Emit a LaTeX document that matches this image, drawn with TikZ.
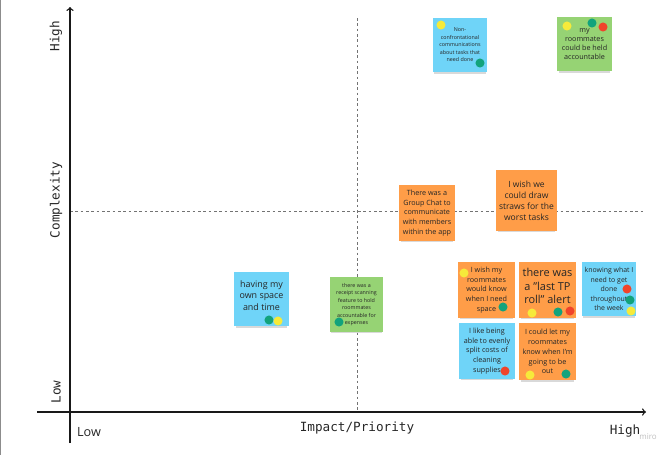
\documentclass[tikz,border=0pt]{standalone}
\usepackage{fontspec}
\setsansfont{Open Sans}
\setmonofont{DejaVu Sans Mono}
\usetikzlibrary{shadows}

\definecolor{noteblue}{HTML}{6FD4F8}
\definecolor{noteorange}{HTML}{FF9D48}
\definecolor{notegreen}{HTML}{96D374}
\definecolor{dotyellow}{HTML}{F6EA3A}
\definecolor{dotgreen}{HTML}{12A37C}
\definecolor{dotred}{HTML}{F0442B}

\tikzset{
  note/.style={inner sep=0pt, align=center, text=black!85,
    minimum width=41pt, minimum height=41pt,
    drop shadow={shadow xshift=0pt, shadow yshift=-2.5pt, opacity=0.3, shadow scale=0.94}},
  bluenote/.style={note, fill=noteblue},
  orangenote/.style={note, fill=noteorange},
  greennote/.style={note, fill=notegreen},
  dot/.style={circle, inner sep=0pt, minimum size=6.8pt},
  axislabel/.style={font=\ttfamily\fontsize{9.5}{11}\selectfont, text=black!85},
  guide/.style={dashed, draw=black!55, line width=0.5pt, dash pattern=on 2pt off 2pt}
}

\begin{document}
\begin{tikzpicture}[x=0.75pt, y=-0.75pt]
\useasboundingbox (0,0) rectangle (670,455);

%frame edge
\draw[black!45, line width=1pt] (0.8,0) -- (0.8,455);

%guides
\coordinate (hl) at (70,211);
\coordinate (hr) at (645,211);
\coordinate (vt) at (357,18);
\coordinate (vb) at (357,412);
\draw[guide] (hl) -- (hr);
\draw[guide] (vt) -- (vb);

%axes
\coordinate (xs) at (37,412);
\coordinate (xe) at (646,412);
\coordinate (ys) at (70,443);
\coordinate (ye) at (70,7);
\draw[->, line width=1pt, black!90] (xs) -- (xe);
\draw[->, line width=1pt, black!90] (ys) -- (ye);

\node[axislabel, rotate=90] (yhigh) at (56,36) {High};
\node[axislabel, rotate=90] (ycomp) at (56,200) {Complexity};
\node[axislabel, rotate=90] (ylow) at (56,392) {Low};
\node[font=\sffamily\fontsize{9.5}{11}\selectfont, text=black!85] (xlow) at (89,432) {Low};
\node[axislabel] (ximp) at (357,428) {Impact/Priority};
\node[axislabel] (xhigh) at (625,431) {High};
\node[font=\sffamily\fontsize{6}{7}\selectfont, text=black!25] (miro) at (648,437) {miro};

%notes
\node[bluenote, font=\sffamily\fontsize{4}{5.6}\selectfont] (nonconf) at (460,45)
  {Non-\\confrontational\\communications\\about tasks that\\need done};
\node[dot, fill=dotyellow] (d1a) at (441,25) {};
\node[dot, fill=dotgreen] (d1b) at (480,63) {};

\node[greennote, font=\sffamily\fontsize{5.4}{6.8}\selectfont] (account) at (584.5,44)
  {my\\roommates\\could be held\\accountable};
\node[dot, fill=dotyellow] (d2a) at (567,26) {};
\node[dot, fill=dotgreen] (d2b) at (592,23) {};
\node[dot, fill=dotred] (d2c) at (603,27) {};

\node[orangenote, minimum width=42pt, minimum height=42pt, font=\sffamily\fontsize{5.4}{7.2}\selectfont] (groupchat) at (427,213)
  {There was a\\Group Chat to\\communicate\\with members\\within the app};

\node[orangenote, minimum width=46pt, minimum height=46pt, font=\sffamily\fontsize{6.4}{8.2}\selectfont] (straws) at (526.5,200.5)
  {I wish we\\could draw\\straws for the\\worst tasks};

\node[bluenote, font=\sffamily\fontsize{6.7}{8.6}\selectfont] (ownspace) at (261.5,299)
  {having my\\own space\\and time\\[-3pt]\mbox{}};
\node[dot, fill=dotgreen] (d5a) at (269,320) {};
\node[dot, fill=dotyellow] (d5b) at (278,321) {};

\node[greennote, minimum width=40pt, font=\sffamily\fontsize{4}{5.6}\selectfont] (receipt) at (356.5,304.5)
  {there was a\\receipt scanning\\feature to hold\\roommates\\accountable for\\expenses};
\node[dot, fill=dotgreen] (d6a) at (339,322) {};

\node[orangenote, minimum width=43pt, minimum height=42pt, font=\sffamily\fontsize{5.4}{7.4}\selectfont] (needspace) at (486.5,290)
  {I wish my\\roommates\\would know\\when I need\\space};
\node[dot, fill=dotyellow] (d7a) at (464,273) {};
\node[dot, fill=dotgreen] (d7b) at (503,307) {};

\node[orangenote, minimum width=43pt, minimum height=42pt, font=\sffamily\fontsize{8.2}{10.2}\selectfont] (tproll) at (547.5,290)
  {there was\\a \char34 last TP\\roll\char34\ alert\\[-4pt]\mbox{}};
\node[dot, fill=dotyellow] (d8a) at (532,313) {};
\node[dot, fill=dotgreen] (d8b) at (558,312) {};
\node[dot, fill=dotred] (d8c) at (570,311) {};

\node[bluenote, font=\sffamily\fontsize{5.2}{7.2}\selectfont] (week) at (609,289)
  {knowing what I\\need to get\\done\\throughout\\the week};
\node[dot, fill=dotred] (d9a) at (627,289) {};
\node[dot, fill=dotgreen] (d9b) at (630,300) {};
\node[dot, fill=dotyellow] (d9c) at (631,311) {};

\node[bluenote, minimum width=42pt, minimum height=42pt, font=\sffamily\fontsize{5.4}{7.4}\selectfont] (splitcost) at (487,351)
  {I like being\\able to evenly\\split costs of\\cleaning\\supplies};
\node[dot, fill=dotred] (d10a) at (505,371) {};

\node[orangenote, minimum width=43pt, minimum height=43pt, font=\sffamily\fontsize{5.4}{7.4}\selectfont] (beout) at (547.5,351.5)
  {I could let my\\roommates\\know when I'm\\going to be\\out};
\node[dot, fill=dotyellow] (d11a) at (530,375) {};
\node[dot, fill=dotgreen] (d11b) at (566,374) {};

\end{tikzpicture}
\end{document}
